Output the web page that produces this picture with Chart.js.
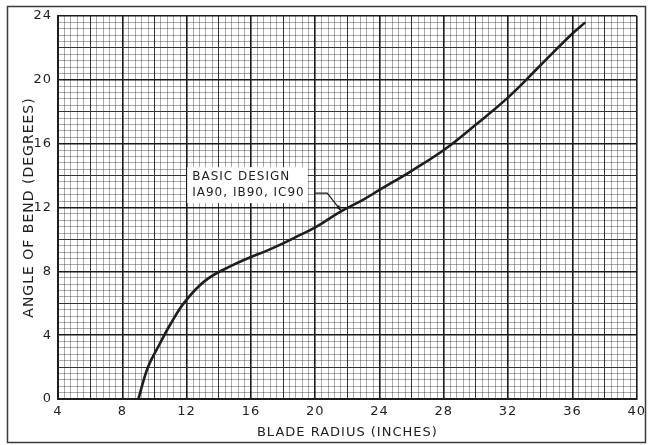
<!DOCTYPE html>
<html>
<head>
<meta charset="utf-8">
<script src="https://cdn.jsdelivr.net/npm/chart.js@4.4.0/dist/chart.umd.min.js"></script>
<style>
  html, body { margin: 0; padding: 0; background: #fff; }
  #wrap { width: 650px; height: 445px; position: relative; }
</style>
</head>
<body>
<div id="wrap"><canvas id="bendChart"></canvas></div>
<script>
// curve
const bladeRadius = [9.0, 9.6, 10.3, 11.0, 11.9, 13.2, 14.9, 16.0, 17.0, 18.0, 19.0, 20.0, 21.5, 23.0, 24.0, 26.0, 28.0, 30.0, 32.0, 34.0, 36.0, 36.8];
const bendAngle = [0, 2.0, 3.4, 4.7, 6.1, 7.45, 8.4, 8.9, 9.3, 9.75, 10.25, 10.75, 11.7, 12.5, 13.1, 14.3, 15.6, 17.2, 18.9, 20.9, 22.9, 23.6];
const xTickLabels = [4, 8, 12, 16, 20, 24, 28, 32, 36, 40];
const yTickLabels = [0, 4, 8, 12, 16, 20, 24];
const noteLines = ["BASIC DESIGN", "IA90, IB90, IC90"];

const INK = "#1e1e1e";
const FONT = "'DejaVu Sans', 'Liberation Sans', sans-serif";
const FINE_STEP = 0.4; // graph paper ruling

// grid: heavy every 4, medium every 2, fine every 0.4
function gridKind(v) {
  if (v === undefined) return "none";
  if (Math.abs(v / 4 - Math.round(v / 4)) < 1e-6) return "major";
  if (Math.abs(v / 2 - Math.round(v / 2)) < 1e-6) return "mid";
  return "minor";
}
const gridColor = (ctx) => {
  const k = gridKind(ctx.tick && ctx.tick.value);
  // translucent fine lines so they don't cut through the heavy ones
  return k === "major" ? "#1a1a1a" : k === "mid" ? "#333" : "rgba(0,0,0,0.33)";
};
const gridWidth = (ctx) => {
  const k = gridKind(ctx.tick && ctx.tick.value);
  return k === "major" ? 1.6 : 1;
};
const labelFrom = (list) => (value) => {
  const hit = list.find((t) => Math.abs(t - value) < 1e-6);
  return hit === undefined ? "" : String(hit);
};
// put a tick on every ruling of the paper
const rulings = (scale) => {
  const n = Math.round((scale.max - scale.min) / FINE_STEP);
  const ticks = [];
  for (let i = 0; i <= n; i++) {
    ticks.push({ value: +(scale.min + i * FINE_STEP).toFixed(4) });
  }
  scale.ticks = ticks;
};

const framePlugin = {
  id: "frame",
  beforeDraw(chart) {
    chart.ctx.letterSpacing = "1px";
  },
  afterDraw(chart) {
    const ctx = chart.ctx;
    ctx.save();
    ctx.strokeStyle = "#3a3a3a";
    ctx.lineWidth = 1.5;
    ctx.strokeRect(7.5, 6.5, 638, 436);
    ctx.restore();
  },
};

// callout text and leader line, placed in data units
const noteAt = { x: 12.35, y: 13.9, lineGap: 1.0 };
const leader = [[20.0, 12.9], [20.75, 12.9], [21.6, 11.8]];

const notePlugin = {
  id: "note",
  afterDatasetsDraw(chart) {
    const { ctx, scales } = chart;
    const xs = scales.x, ys = scales.y;
    ctx.save();
    ctx.letterSpacing = "1px";
    ctx.font = "12px " + FONT;
    ctx.textBaseline = "middle";
    const left = xs.getPixelForValue(noteAt.x);
    const y1 = ys.getPixelForValue(noteAt.y);
    const y2 = ys.getPixelForValue(noteAt.y - noteAt.lineGap);
    const w = Math.max(...noteLines.map((t) => ctx.measureText(t).width));
    ctx.fillStyle = "#fff";
    ctx.fillRect(left - 5, y1 - 10, w + 8, y2 - y1 + 20);
    ctx.fillStyle = INK;
    ctx.fillText(noteLines[0], left, y1);
    ctx.fillText(noteLines[1], left, y2);

    const pts = leader.map(([a, b]) => [xs.getPixelForValue(a), ys.getPixelForValue(b)]);
    ctx.strokeStyle = INK;
    ctx.lineWidth = 1.2;
    ctx.beginPath();
    ctx.moveTo(pts[0][0], pts[0][1]);
    pts.slice(1).forEach((p) => ctx.lineTo(p[0], p[1]));
    ctx.stroke();
    // small arrow head
    const [px, py] = pts[1];
    const [ex, ey] = pts[2];
    const ang = Math.atan2(ey - py, ex - px);
    ctx.beginPath();
    ctx.moveTo(ex, ey);
    ctx.lineTo(ex - 6 * Math.cos(ang - 0.35), ey - 6 * Math.sin(ang - 0.35));
    ctx.lineTo(ex - 6 * Math.cos(ang + 0.35), ey - 6 * Math.sin(ang + 0.35));
    ctx.closePath();
    ctx.fillStyle = INK;
    ctx.fill();
    ctx.restore();
  },
};

const ctx = document.getElementById("bendChart").getContext("2d");
new Chart(ctx, {
  type: "scatter",
  data: {
    datasets: [
      {
        label: "Basic design",
        data: bladeRadius.map((r, i) => ({ x: r, y: bendAngle[i] })),
        showLine: true,
        borderColor: INK,
        borderWidth: 2.6,
        pointRadius: 0,
        tension: 0.4,
      },
    ],
  },
  options: {
    responsive: true,
    maintainAspectRatio: false,
    animation: false,
    layout: { padding: { top: 16, right: 13, left: 0, bottom: 0 } },
    plugins: { legend: { display: false }, tooltip: { enabled: false } },
    scales: {
      x: {
        type: "linear",
        min: 4,
        max: 40,
        afterBuildTicks: rulings,
        afterFit: (scale) => { scale.height = 46; },
        grid: { color: gridColor, lineWidth: gridWidth, drawTicks: false },
        border: { color: INK, width: 2 },
        ticks: {
          autoSkip: false,
          source: "ticks",
          maxRotation: 0,
          minRotation: 0,
          padding: 5,
          color: INK,
          font: { family: FONT, size: 13 },
          callback: labelFrom(xTickLabels),
        },
        title: {
          display: true,
          text: "BLADE RADIUS (INCHES)",
          color: INK,
          font: { family: FONT, size: 13 },
          padding: { top: 0, bottom: 5 },
        },
      },
      y: {
        type: "linear",
        min: 0,
        max: 24,
        afterBuildTicks: rulings,
        afterFit: (scale) => { scale.width = 58; },
        grid: { color: gridColor, lineWidth: gridWidth, drawTicks: false },
        border: { color: INK, width: 2 },
        ticks: {
          autoSkip: false,
          source: "ticks",
          padding: 6,
          color: INK,
          font: { family: FONT, size: 13 },
          callback: labelFrom(yTickLabels),
        },
        title: {
          display: true,
          text: "ANGLE OF BEND (DEGREES)",
          color: INK,
          font: { family: FONT, size: 14 },
          padding: { top: 21, bottom: 0 },
        },
      },
    },
  },
  plugins: [framePlugin, notePlugin],
});
</script>
</body>
</html>
